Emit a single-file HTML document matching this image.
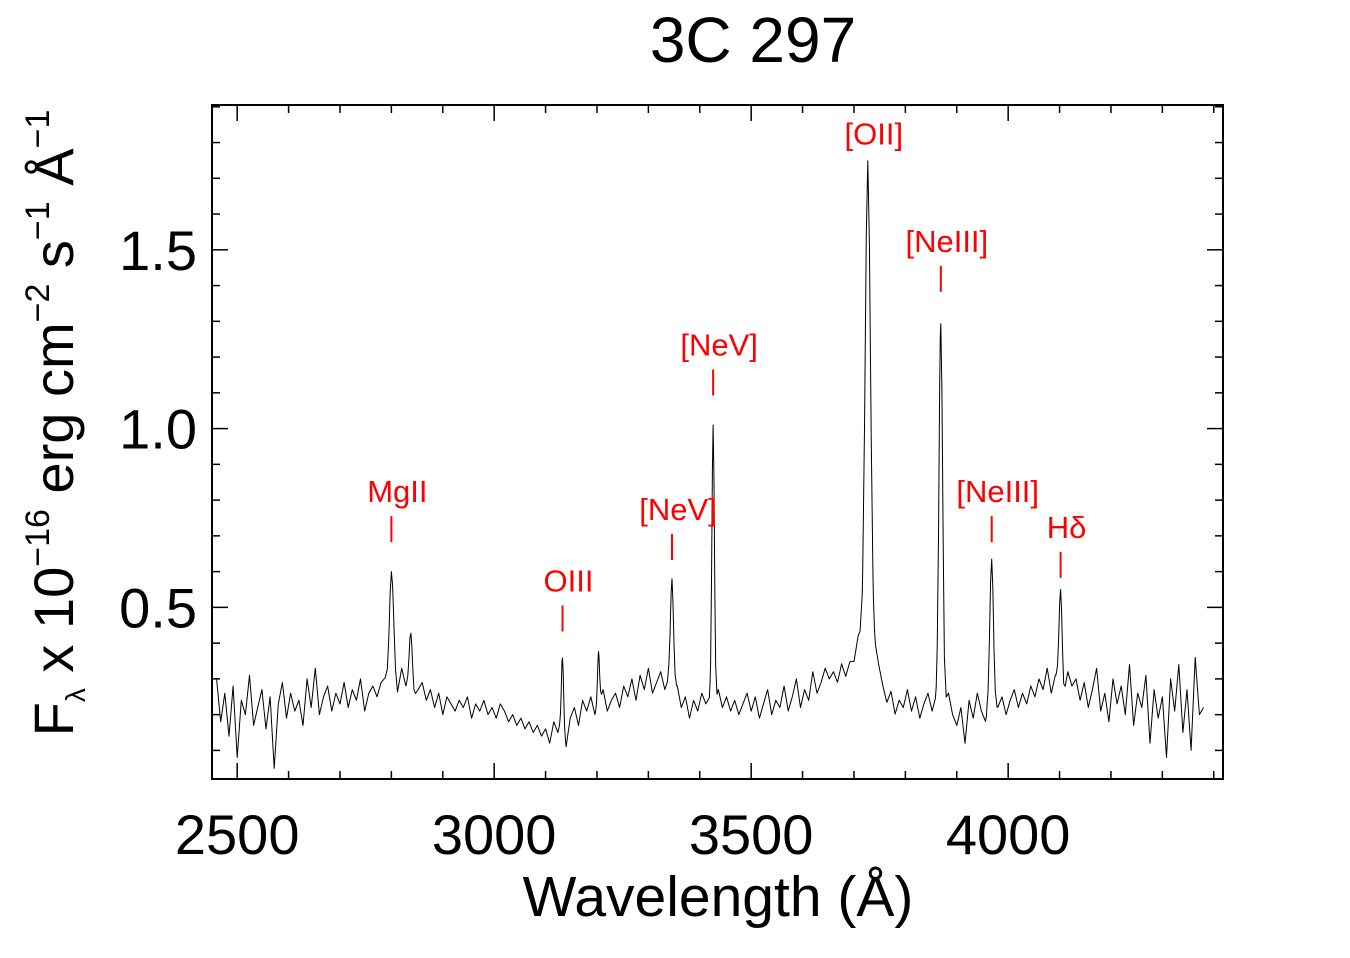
<!DOCTYPE html>
<html><head><meta charset="utf-8"><style>
html,body{margin:0;padding:0;background:#fff;}
svg{display:block;font-family:"Liberation Sans",sans-serif;}
</style></head><body>
<svg id="chart" width="1350" height="958" viewBox="0 0 1350 958">
<text x="753" y="62" font-size="64" text-anchor="middle">3C 297</text>
<g id="ticks"></g>
<g id="plot"></g>
<rect x="212" y="105" width="1011" height="674" fill="none" stroke="#000" stroke-width="2"/>
<text x="718" y="916" font-size="57" text-anchor="middle">Wavelength (Å)</text>
<text transform="translate(73,423) rotate(-90)" font-size="56" text-anchor="middle">F<tspan font-size="28" dy="12">λ</tspan><tspan dy="-12"> x 10</tspan><tspan font-size="34" dy="-24">−16</tspan><tspan dy="24"> erg cm</tspan><tspan font-size="34" dy="-24">−2</tspan><tspan dy="24"> s</tspan><tspan font-size="34" dy="-24">−1</tspan><tspan dy="24"> Å</tspan><tspan font-size="34" dy="-24">−1</tspan></text>
</svg>
<script>
const xTicks=[2500,3000,3500,4000];
const yTicks=[0.5,1.0,1.5];
const yTickLabels=["0.5","1.0","1.5"];
const contStart=2460, contStep=8;
const contFlux=[
0.30,0.18,0.26,0.14,0.28,0.08,0.24,0.20,0.31,0.17,
0.22,0.27,0.16,0.25,0.05,0.23,0.29,0.19,0.26,0.21,
0.24,0.17,0.30,0.22,0.33,0.20,0.25,0.28,0.21,0.26,
0.23,0.29,0.22,0.27,0.24,0.30,0.21,0.26,0.28,0.25,
0.29,0.30,0.27,0.31,0.26,0.33,0.28,0.30,0.25,0.27,
0.29,0.24,0.27,0.22,0.26,0.20,0.25,0.23,0.21,0.24,
0.22,0.25,0.19,0.23,0.21,0.24,0.20,0.22,0.19,0.23,
0.21,0.18,0.20,0.17,0.19,0.16,0.18,0.15,0.17,0.14,
0.16,0.12,0.18,0.15,0.20,0.11,0.19,0.22,0.17,0.24,
0.21,0.25,0.20,0.23,0.27,0.21,0.24,0.26,0.22,0.28,
0.25,0.30,0.24,0.31,0.27,0.33,0.26,0.29,0.32,0.27,
0.30,0.26,0.28,0.22,0.25,0.19,0.24,0.21,0.26,0.23,
0.24,0.20,0.27,0.22,0.25,0.21,0.24,0.20,0.23,0.26,
0.21,0.25,0.19,0.23,0.27,0.20,0.24,0.22,0.28,0.21,
0.25,0.30,0.22,0.27,0.24,0.32,0.26,0.29,0.33,0.30,
0.32,0.29,0.34,0.30,0.33,0.31,0.35,0.32,0.34,0.31,
0.30,0.28,0.25,0.22,0.26,0.20,0.24,0.22,0.27,0.21,
0.25,0.19,0.23,0.26,0.21,0.24,0.27,0.22,0.26,0.20,
0.17,0.22,0.12,0.24,0.19,0.26,0.21,0.18,0.23,0.20,
0.22,0.25,0.20,0.24,0.27,0.22,0.26,0.23,0.28,0.25,
0.30,0.27,0.33,0.26,0.31,0.29,0.25,0.32,0.28,0.30,
0.24,0.29,0.22,0.27,0.33,0.21,0.26,0.18,0.30,0.23,
0.28,0.20,0.34,0.17,0.26,0.22,0.31,0.12,0.27,0.19,
0.25,0.08,0.30,0.21,0.34,0.15,0.27,0.10,0.36,0.20,
0.22];
const lineCenters=[2800,2838,3133,3203,3346,3426,3727,3727,3869,3968,4102];
const lineAmps=[0.31,0.14,0.17,0.15,0.31,0.80,1.30,0.12,1.03,0.42,0.27];
const lineSigmas=[4,3,2,2,3,2.5,5,18,3.5,3.5,3];
const labelNames=["MgII","OIII","[NeV]","[NeV]","[OII]","[NeIII]","[NeIII]","Hδ"];
const labelWaves=[2800,3133,3346,3426,3727,3869,3968,4102];
const labelFlux=[0.80,0.55,0.75,1.21,1.80,1.50,0.80,0.70];
const labelHasTick=[1,1,1,1,0,1,1,1];

const X0=212,X1=1223,Y0=779,Y1=105;
const wMin=2451,wMax=4418,fMin=0.02,fMax=1.905;
const xs=w=>X0+(w-wMin)/(wMax-wMin)*(X1-X0);
const ys=f=>Y0-(f-fMin)/(fMax-fMin)*(Y0-Y1);
const NS="http://www.w3.org/2000/svg";
const mk=(t,a)=>{const e=document.createElementNS(NS,t);for(const k in a)e.setAttribute(k,a[k]);return e;};
const tg=document.getElementById('ticks'),pg=document.getElementById('plot');

for(let w=2500;w<=4400;w+=100){
  const maj=xTicks.includes(w),L=maj?16:8,x=xs(w);
  const a=mk('line',{x1:x,x2:x,y1:Y0,y2:Y0-L,stroke:'#000','stroke-width':1.5});
  
  
  tg.appendChild(a);
  const b=mk('line',{x1:x,x2:x,y1:Y1,y2:Y1+L,stroke:'#000','stroke-width':1.5});
  
  
  tg.appendChild(b);
}
xTicks.forEach(w=>{
  const t=mk('text',{x:xs(w),y:854,'font-size':56,'text-anchor':'middle'});
  t.textContent=w;
  
  
  tg.appendChild(t);
});
for(let i=1;i<=19;i++){
  const f=i/10,maj=(i%5===0),L=maj?16:8,y=ys(f);
  const a=mk('line',{x1:X0,x2:X0+L,y1:y,y2:y,stroke:'#000','stroke-width':1.5});
  
  
  tg.appendChild(a);
  const b=mk('line',{x1:X1,x2:X1-L,y1:y,y2:y,stroke:'#000','stroke-width':1.5});
  
  
  tg.appendChild(b);
}
yTicks.forEach((f,i)=>{
  const t=mk('text',{x:197,y:ys(f)+20,'font-size':56,'text-anchor':'end'});
  t.textContent=yTickLabels[i];
  
  
  tg.appendChild(t);
});

const contW=contFlux.map((_,i)=>contStart+i*contStep);
function cont(w){let i=Math.floor((w-contStart)/contStep);i=Math.max(0,Math.min(contFlux.length-2,i));const t=(w-contW[i])/contStep;return contFlux[i]*(1-t)+contFlux[i+1]*t;}
function model(w){let f=cont(w);for(let j=0;j<lineCenters.length;j++){const d=(w-lineCenters[j])/lineSigmas[j];f+=lineAmps[j]*Math.exp(-0.5*d*d);}return f;}
let ws=contW.slice();
lineCenters.forEach((c,j)=>{[-3,-2,-1.3,-0.6,0,0.6,1.3,2,3].forEach(k=>ws.push(c+k*lineSigmas[j]));});
ws=ws.filter(w=>w>=contStart&&w<=contW[contW.length-1]);
ws.sort((a,b)=>a-b);
const pts=ws.map(w=>xs(w).toFixed(1)+','+ys(model(w)).toFixed(1)).join(' ');
const pl=mk('polyline',{points:pts,fill:'none',stroke:'#000','stroke-width':1,'stroke-linejoin':'round'});


pg.appendChild(pl);

labelNames.forEach((n,i)=>{
  const x=xs(labelWaves[i]),y=ys(labelFlux[i]);
  const t=mk('text',{x:x+6,y:y+2,'font-size':31,'text-anchor':'middle',fill:'#f00'});
  t.textContent=n;
  
  
  pg.appendChild(t);
  if(labelHasTick[i]){
    const l=mk('line',{x1:x,x2:x,y1:y+16,y2:y+42,stroke:'#f00','stroke-width':2});
    
    
    pg.appendChild(l);
  }
});
</script>
</body></html>
